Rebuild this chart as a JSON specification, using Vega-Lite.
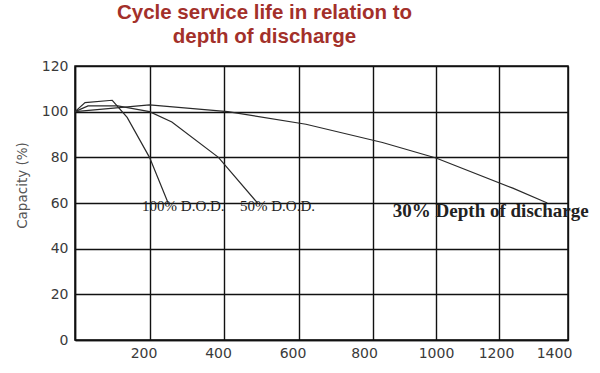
{
  "$schema": "https://vega.github.io/schema/vega-lite/v6.json",
  "autosize": {"type": "none"},
  "width": 493,
  "height": 274,
  "padding": {"left": 75, "top": 66, "right": 32, "bottom": 33},
  "background": "white",
  "title": {
    "text": ["Cycle service life in relation to", "depth of discharge"],
    "font": "Liberation Sans",
    "fontSize": 20.5,
    "fontWeight": "bold",
    "color": "#a3302a",
    "lineHeight": 24,
    "anchor": "middle",
    "frame": "group",
    "dx": -57,
    "offset": 12
  },
  "config": {
    "view": {"stroke": "#111", "strokeWidth": 1.5},
    "axis": {
      "labelFont": "DejaVu Sans",
      "labelFontSize": 14,
      "labelColor": "#3a3a3a",
      "grid": true,
      "gridColor": "#111",
      "gridWidth": 1.4,
      "gridOpacity": 1,
      "domainColor": "#111",
      "domainWidth": 1.5,
      "ticks": false
    }
  },
  "datasets": {
    "curves": [
      {"dod": "100%", "cycles": 0, "capacity": 100},
      {"dod": "100%", "cycles": 27, "capacity": 104},
      {"dod": "100%", "cycles": 100, "capacity": 105},
      {"dod": "100%", "cycles": 140, "capacity": 97.5},
      {"dod": "100%", "cycles": 200, "capacity": 80},
      {"dod": "100%", "cycles": 250, "capacity": 60},
      {"dod": "50%", "cycles": 0, "capacity": 100},
      {"dod": "50%", "cycles": 35, "capacity": 102.5},
      {"dod": "50%", "cycles": 115, "capacity": 102.5},
      {"dod": "50%", "cycles": 200, "capacity": 100},
      {"dod": "50%", "cycles": 260, "capacity": 95.5},
      {"dod": "50%", "cycles": 385, "capacity": 80},
      {"dod": "50%", "cycles": 490, "capacity": 60},
      {"dod": "30%", "cycles": 0, "capacity": 100},
      {"dod": "30%", "cycles": 200, "capacity": 103},
      {"dod": "30%", "cycles": 410, "capacity": 100},
      {"dod": "30%", "cycles": 620, "capacity": 94.5},
      {"dod": "30%", "cycles": 830, "capacity": 86.5},
      {"dod": "30%", "cycles": 1000, "capacity": 79.7},
      {"dod": "30%", "cycles": 1240, "capacity": 66.5},
      {"dod": "30%", "cycles": 1340, "capacity": 60}
    ],
    "labels": [
      {"label": "100% D.O.D.", "cycles": 180, "capacity": 58.5},
      {"label": "50% D.O.D.", "cycles": 443, "capacity": 58.5}
    ],
    "biglabel": [
      {"label": "30% Depth of discharge", "cycles": 863, "capacity": 56.5}
    ]
  },
  "layer": [
    {
      "data": {"name": "curves"},
      "mark": {"type": "line", "stroke": "#2a2a2a", "strokeWidth": 1.2},
      "encoding": {
        "x": {
          "field": "cycles",
          "type": "quantitative",
          "scale": {"domain": [0, 800, 1000, 1200, 1400], "range": [0, 298, 361, 424, 493]},
          "axis": {
            "title": null,
            "values": [0, 200, 400, 600, 800, 1000, 1200, 1400],
            "labelExpr": "datum.value == 0 ? '' : datum.label",
            "format": "d",
            "labelPadding": 6,
            "labelOffset": {"expr": "datum.value == 1400 ? -14 : datum.value == 1000 ? 0 : datum.value == 1200 ? -3 : datum.value == 800 ? -9 : -6"},
            "labelFlush": false
          }
        },
        "y": {
          "field": "capacity",
          "type": "quantitative",
          "scale": {"domain": [0, 120]},
          "axis": {
            "title": "Capacity (%)",
            "titleFont": "DejaVu Sans",
            "titleFontSize": 13.5,
            "titleFontWeight": "normal",
            "titleColor": "#555",
            "titlePadding": 12,
            "titleY": 119,
            "values": [0, 20, 40, 60, 80, 100, 120],
            "labelPadding": 7
          }
        },
        "detail": {"field": "dod"}
      }
    },
    {
      "data": {"name": "labels"},
      "mark": {"type": "text", "align": "left", "baseline": "middle", "font": "Liberation Serif", "fontSize": 15, "color": "#222"},
      "encoding": {
        "x": {"field": "cycles", "type": "quantitative"},
        "y": {"field": "capacity", "type": "quantitative"},
        "text": {"field": "label"}
      }
    },
    {
      "data": {"name": "biglabel"},
      "mark": {"type": "text", "align": "left", "baseline": "middle", "font": "Liberation Serif", "fontSize": 19, "fontWeight": "bold", "color": "#222"},
      "encoding": {
        "x": {"field": "cycles", "type": "quantitative"},
        "y": {"field": "capacity", "type": "quantitative"},
        "text": {"field": "label"}
      }
    }
  ]
}
